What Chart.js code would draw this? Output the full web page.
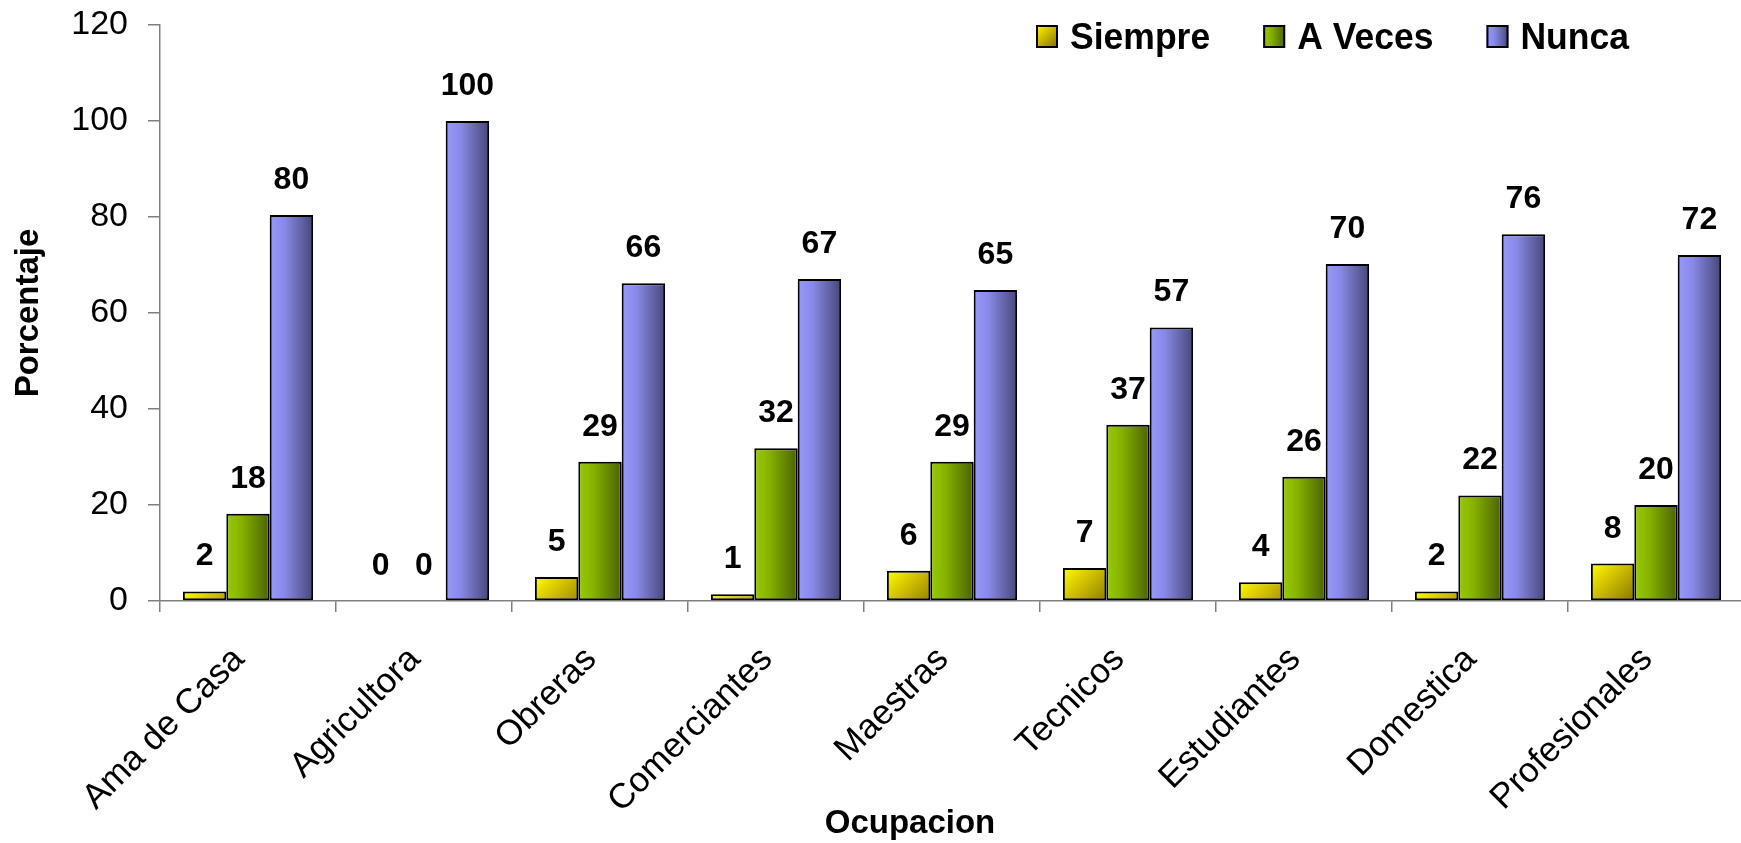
<!DOCTYPE html>
<html>
<head>
<meta charset="utf-8">
<script src="https://cdn.jsdelivr.net/npm/chart.js@4.4.1/dist/chart.umd.min.js"></script>
<style>
html, body { margin: 0; padding: 0; background: #fff; overflow: hidden; }
.chart-wrap { position: relative; width: 1744px; height: 843px; }
</style>
</head>
<body>
<div class="chart-wrap"><canvas id="chart"></canvas></div>
<script>
const FONT = "'Liberation Sans', Arial, sans-serif";

const categories = ["Ama de Casa", "Agricultora", "Obreras", "Comerciantes", "Maestras", "Tecnicos", "Estudiantes", "Domestica", "Profesionales"];
const seriesNames = ["Siempre", "A Veces", "Nunca"];
const siempre = [2, 0, 5, 1.4, 6.3, 6.9, 3.9, 2, 7.8];
const aVeces = [18.2, 0, 29, 31.8, 29, 36.7, 25.9, 22, 20];
const nunca = [80.4, 100, 66.2, 67.1, 64.8, 57, 70.2, 76.4, 72.1];
const yTicks = [0, 20, 40, 60, 80, 100, 120];

// light -> dark, yellow one runs corner to corner
const GRADIENTS = [
	{ stops: ["#FFFF00", "#D8C800", "#7E6C00"], diagonal: true },
	{ stops: ["#99CC00", "#86B200", "#4A6200"] },
	{ stops: ["#9999FF", "#8888E6", "#47477A"] },
];

function makeGradient(ctx, i, left, top, w, h) {
	const g = GRADIENTS[i];
	const grad = g.diagonal
		? ctx.createLinearGradient(left, top, left + w, top + Math.max(h, w))
		: ctx.createLinearGradient(left, 0, left + w, 0);
	grad.addColorStop(0, g.stops[0]);
	grad.addColorStop(0.35, g.stops[1]);
	grad.addColorStop(1, g.stops[2]);
	return grad;
}

const barGradients = {
	id: "barGradients",
	beforeDatasetsDraw(chart) {
		const ctx = chart.ctx;
		chart.data.datasets.forEach((ds, di) => {
			chart.getDatasetMeta(di).data.forEach((bar) => {
				const left = bar.x - bar.width / 2;
				const top = Math.min(bar.y, bar.base);
				const h = Math.abs(bar.base - bar.y);
				bar.options = Object.assign({}, bar.options, {
					backgroundColor: makeGradient(ctx, di, left, top, bar.width, h),
				});
			});
		});
	},
};

const valueLabels = {
	id: "valueLabels",
	afterDatasetsDraw(chart) {
		const ctx = chart.ctx;
		ctx.save();
		ctx.font = "bold 32px " + FONT;
		ctx.fillStyle = "#000";
		ctx.textAlign = "center";
		ctx.textBaseline = "alphabetic";
		chart.data.datasets.forEach((ds, di) => {
			chart.getDatasetMeta(di).data.forEach((bar, i) => {
				ctx.fillText(String(Math.round(ds.data[i])), bar.x, bar.y - 26);
			});
		});
		ctx.restore();
	},
};

const legendBoxes = {
	id: "legendBoxes",
	afterDraw(chart) {
		const ctx = chart.ctx;
		const squeeze = 0.96;
		const top = 25;
		let x = 1036;
		ctx.save();
		ctx.font = "bold 37px " + FONT;
		ctx.textBaseline = "alphabetic";
		chart.data.datasets.forEach((ds, i) => {
			ctx.fillStyle = makeGradient(ctx, i, x, top, 22, 23);
			ctx.fillRect(x, top, 22, 23);
			ctx.lineWidth = 2;
			ctx.strokeStyle = "#000";
			ctx.strokeRect(x + 1, top + 1, 20, 21);
			const tx = x + 34;
			const w = ctx.measureText(ds.label).width * squeeze;
			ctx.save();
			ctx.translate(tx, top + 24);
			ctx.scale(squeeze, 1);
			ctx.fillStyle = "#000";
			ctx.fillText(ds.label, 0, 0);
			ctx.restore();
			x = tx + w + 53;
		});
		ctx.restore();
	},
};

const xTitle = {
	id: "xTitle",
	afterDraw(chart) {
		const ctx = chart.ctx;
		ctx.save();
		ctx.font = "bold 33px " + FONT;
		ctx.fillStyle = "#000";
		ctx.textAlign = "center";
		ctx.textBaseline = "alphabetic";
		ctx.fillText("Ocupacion", 910, 833);
		ctx.restore();
	},
};

new Chart(document.getElementById("chart"), {
	type: "bar",
	data: {
		labels: categories,
		datasets: [siempre, aVeces, nunca].map((data, i) => ({
			label: seriesNames[i],
			data: data,
			backgroundColor: (c) => GRADIENTS[c.datasetIndex].stops[0],
			borderColor: "#000000",
			borderWidth: (c) => (c.raw === 0 ? 0 : 2),
			borderSkipped: false,
			categoryPercentage: 0.74,
			barPercentage: 1,
		})),
	},
	options: {
		responsive: true,
		maintainAspectRatio: false,
		animation: false,
		events: [],
		layout: {
			padding: { top: 25, left: 0, right: 0, bottom: 0 },
		},
		plugins: {
			legend: { display: false },
			tooltip: { enabled: false },
		},
		scales: {
			x: {
				grid: {
					drawOnChartArea: false,
					offset: true,
					color: "#808080",
					lineWidth: 1.5,
					tickLength: 11,
				},
				border: { color: "#808080", width: 1.5 },
				ticks: {
					color: "#000",
					font: { family: FONT, size: 35 },
					minRotation: 45,
					maxRotation: 45,
					autoSkip: false,
					padding: 27,
					labelOffset: -9,
				},
				afterFit: (s) => {
					s.height = 242;
				},
			},
			y: {
				min: 0,
				max: 120,
				afterBuildTicks: (s) => {
					s.ticks = yTicks.map((v) => ({ value: v }));
				},
				grid: {
					drawOnChartArea: false,
					color: "#808080",
					lineWidth: 1.5,
					tickLength: 12,
				},
				border: { color: "#808080", width: 1.5 },
				ticks: {
					color: "#000",
					font: { family: FONT, size: 34 },
					padding: 20,
				},
				title: {
					display: true,
					text: "Porcentaje",
					color: "#000",
					font: { family: FONT, size: 33, weight: "bold" },
					padding: { top: 9, bottom: 0 },
				},
				afterFit: (s) => {
					s.width = 160;
					s.paddingTop = 0;
					s.paddingBottom = 0;
				},
			},
		},
	},
	plugins: [barGradients, valueLabels, legendBoxes, xTitle],
});
</script>
</body>
</html>
